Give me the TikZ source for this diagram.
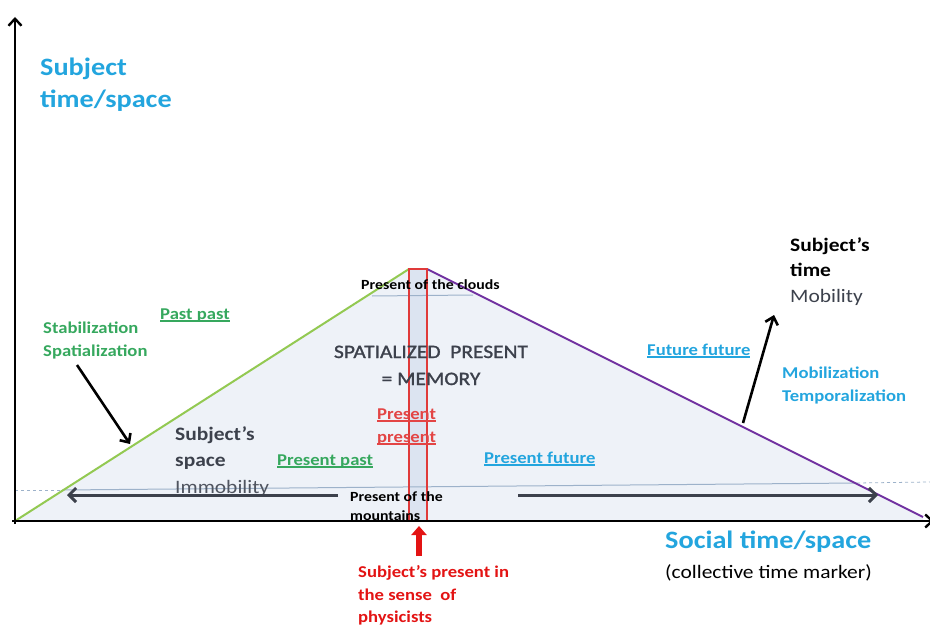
\documentclass[tikz,border=0pt]{standalone}
\usepackage{fontspec}
\setmainfont{Carlito}[FakeStretch=1.13]
\usetikzlibrary{arrows.meta}
\definecolor{cyanT}{HTML}{23A5DE}
\definecolor{greenT}{HTML}{36A85E}
\definecolor{greenL}{HTML}{93C952}
\definecolor{purpleL}{HTML}{7030A0}
\definecolor{redL}{HTML}{E03A3A}
\definecolor{redT}{HTML}{E34545}
\definecolor{redB}{HTML}{E31313}
\definecolor{fillT}{HTML}{EEF2F8}
\definecolor{fillR}{HTML}{DCE4F1}
\definecolor{darkT}{HTML}{3C414C}
\definecolor{grayT}{HTML}{505560}
\definecolor{horiz}{HTML}{9DB2CA}
\newcommand\fsz[1]{\fontsize{#1}{#1}\selectfont}
\newcommand\ulx[1]{\setbox0\hbox{#1}\rlap{\rule[-2.6pt]{\wd0}{1.3pt}}\box0}
\begin{document}
\begin{tikzpicture}[x=1pt,y=-1pt,
  lbl/.style={inner sep=0pt, anchor=base west},
  axisarrow/.style={line width=2.4pt, -{Straight Barb[length=7pt,width=13pt]}},
  blkarrow/.style={line width=2.6pt, -{Straight Barb[length=7pt,width=13pt]}},
  grayarrow/.style={darkT, line width=3pt, -{Straight Barb[length=7pt,width=14pt]}}]
\useasboundingbox (0,0) rectangle (930,626);
% key points
\coordinate (O) at (15,521);
\coordinate (Ytop) at (15,17);
\coordinate (Ybot) at (15,524);
\coordinate (Xbeg) at (12,521);
\coordinate (Xend) at (934,521);
\coordinate (apL) at (409,269);
\coordinate (apR) at (427,269);
\coordinate (Rt) at (923,517);
\coordinate (rBL) at (409,521);
\coordinate (rBR) at (427,521);
% fills
\fill[fillT] (O) -- (apL) -- (apR) -- (Rt) -- (923,521) -- cycle;
\fill[fillR] (apL) rectangle (rBR);
% horizon lines
\coordinate (h1) at (15,490);
\coordinate (h2) at (62,490);
\coordinate (h3) at (857,483);
\coordinate (h4) at (930,482);
\draw[horiz, dashed, line width=0.8pt] (h1) -- (h2);
\draw[horiz, line width=1pt] (h2) -- (h3);
\draw[horiz, dashed, line width=0.8pt] (h3) -- (h4);
\coordinate (c1) at (372,296);
\coordinate (c2) at (473,295);
\draw[horiz, line width=1pt] (c1) -- (c2);
% triangle edges
\draw[greenL, line width=2pt] (O) -- (apL);
\draw[purpleL, line width=2pt] (apR) -- (Rt);
\draw[redL, line width=2pt] (rBL) -- (apL) -- (apR) -- (rBR);
% axes
\draw[axisarrow] (Ybot) -- (Ytop);
\draw[axisarrow] (Xbeg) -- (Xend);

% texts
\node[lbl, text=cyanT, font=\fsz{25}\bfseries] (yl1) at (40,76) {Subject};
\node[lbl, text=cyanT, font=\fsz{25}\bfseries] (yl2) at (40,108) {time/space};
\node[lbl, text=cyanT, font=\fsz{25}\bfseries] (xl1) at (665,548) {Social time/space};
\node[lbl, text=black, font=\fsz{19}] (xl2) at (665,578) {(collective time marker)};

\node[lbl, text=black, font=\fsz{19}\bfseries] (st1) at (790,251) {Subject’s};
\node[lbl, text=black, font=\fsz{19}\bfseries] (st2) at (790,276) {time};
\node[lbl, text=darkT, font=\fsz{19}] (st3) at (790,302) {Mobility};

\node[lbl, text=cyanT, font=\fsz{16.5}\bfseries] (mo1) at (782,378) {Mobilization};
\node[lbl, text=cyanT, font=\fsz{16.5}\bfseries] (mo2) at (782,401) {Temporalization};
\node[lbl, text=cyanT, font=\fsz{16.5}\bfseries] (ff) at (647,355) {\ulx{Future future}};

\node[lbl, text=greenT, font=\fsz{16.5}\bfseries] (sb1) at (43,333) {Stabilization};
\node[lbl, text=greenT, font=\fsz{16.5}\bfseries] (sb2) at (43,356) {Spatialization};
\node[lbl, text=greenT, font=\fsz{16.5}\bfseries] (pp) at (160,319) {\ulx{Past past}};

\node[lbl, text=darkT, font=\fsz{19}\bfseries] (ss1) at (175,440) {Subject’s};
\node[lbl, text=darkT, font=\fsz{19}\bfseries] (ss2) at (175,466) {space};
\node[lbl, text=grayT, font=\fsz{19}] (ss3) at (175,493) {Immobility};

\node[lbl, text=greenT, font=\fsz{16.5}\bfseries] (ppa) at (277,465) {\ulx{Present past}};
\node[lbl, text=cyanT, font=\fsz{16.5}\bfseries] (pfu) at (484,463) {\ulx{Present future}};
\node[lbl, text=redT, font=\fsz{16.5}\bfseries] (prp1) at (377,419) {\ulx{Present}};
\node[lbl, text=redT, font=\fsz{16.5}\bfseries] (prp2) at (377,442) {\ulx{present}};

\node[inner sep=0pt, anchor=base, text=darkT, font=\fsz{19}\addfontfeature{FakeBold=1.3}] (sp1) at (431,358) {SPATIALIZED\ \ PRESENT};
\node[inner sep=0pt, anchor=base, text=darkT, font=\fsz{19}\addfontfeature{FakeBold=1.3}] (sp2) at (431,385) {= MEMORY};

\node[lbl, text=black, font=\fsz{14}\bfseries] (clouds) at (361,289) {Present of the clouds};
\node[lbl, text=black, font=\fsz{14}\bfseries] (mt1) at (350,501) {Present of the};
\node[lbl, text=black, font=\fsz{14}\bfseries] (mt2) at (350,520) {mountains};

\node[lbl, text=redB, font=\fsz{16.5}\bfseries] (ph1) at (358,577) {Subject’s present in};
\node[lbl, text=redB, font=\fsz{16.5}\bfseries] (ph2) at (358,600) {the sense\ \ of};
\node[lbl, text=redB, font=\fsz{16.5}\bfseries] (ph3) at (358,622) {physicists};

% arrows
\coordinate (stabS) at (77,365);
\coordinate (stabE) at (130,444);
\draw[blkarrow] (stabS) -- (stabE);
\coordinate (mobS) at (743,423);
\coordinate (mobE) at (774,315);
\draw[blkarrow] (mobS) -- (mobE);
\coordinate (laS) at (338,495);
\coordinate (laE) at (67,495);
\draw[grayarrow] (laS) -- (laE);
\coordinate (raS) at (518,495);
\coordinate (raE) at (878,495);
\draw[grayarrow] (raS) -- (raE);
\coordinate (phS) at (419,556);
\coordinate (phE) at (419,526);
\draw[redB, line width=5.5pt, -{Triangle[length=9pt,width=15pt]}] (phS) -- (phE);
\end{tikzpicture}
\end{document}
